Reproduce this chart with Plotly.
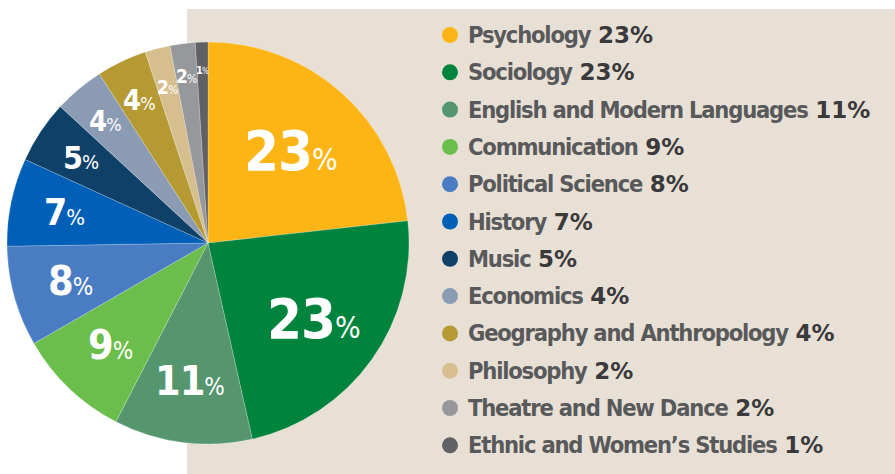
import math
import plotly.graph_objects as go

categories = ["Psychology", "Sociology", "English and Modern Languages", "Communication",
              "Political Science", "History", "Music", "Economics",
              "Geography and Anthropology", "Philosophy", "Theatre and New Dance",
              "Ethnic and Women\u2019s Studies"]
values = [23, 23, 11, 9, 8, 7, 5, 4, 4, 2, 2, 1]
colors = ["#FDB515", "#00843D", "#55966E", "#6BBE4B", "#4A7CC4", "#0060B8",
          "#0F4168", "#8A9BB3", "#B59A33", "#D6BE8F", "#97989C", "#5F6165"]

# label styling (pie in-slice labels)
lab_num_size = [56, 56, 41, 41, 41, 37, 32, 29, 29, 19, 19, 11]
lab_pct_size = [30, 30, 24, 24, 24, 22, 20, 18, 18, 12, 12, 8]
lab_rad = [0.62, 0.65, 0.69, 0.70, 0.71, 0.73, 0.76, 0.79, 0.79, 0.80, 0.84, 0.86]

W, H = 895, 474
cx, cy, R = 208, 243, 201  # pixel geometry of the pie

NARROW = "DejaVu Sans, sans-serif"
WIDE = "DejaVu Sans, Liberation Sans, Arial, sans-serif"
COND = "font-stretch:condensed"

fig = go.Figure()

fig.add_trace(go.Pie(
    labels=categories, values=values, sort=False, direction="clockwise", rotation=0,
    marker=dict(colors=colors, line=dict(color="rgba(255,255,255,0.35)", width=0.6)),
    textinfo="none", hoverinfo="label+percent", showlegend=False,
    domain=dict(x=[(cx - R) / W, (cx + R) / W], y=[(H - cy - R) / H, (H - cy + R) / H]),
))

# in-slice labels
total = sum(values)
cum = 0
for i, v in enumerate(values):
    mid = (cum + v / 2) / total * 2 * math.pi
    cum += v
    r = lab_rad[i] * R
    px = cx + r * math.sin(mid)
    py = cy - r * math.cos(mid)
    fig.add_annotation(
        x=px / W, y=1 - py / H, xref="paper", yref="paper", showarrow=False,
        xanchor="center", yanchor="middle",
        text=(f"<span style='{COND};letter-spacing:-1px'><b>{v}</b></span>"
              f"<span style='{COND};font-size:{lab_pct_size[i]}px'>%</span>"),
        font=dict(family=NARROW, size=lab_num_size[i], color="white"),
    )

# legend dots
row_y = [35 + 37.3 * i for i in range(len(categories))]
fig.add_trace(go.Scatter(
    x=[450] * len(categories), y=row_y, mode="markers",
    marker=dict(size=16, color=colors), hoverinfo="skip", showlegend=False,
))

for i, (c, v) in enumerate(zip(categories, values)):
    fig.add_annotation(
        x=466, y=row_y[i], xref="x", yref="y", showarrow=False,
        xanchor="left", yanchor="middle",
        text=(f"<span style='{COND};letter-spacing:-1.2px;font-size:23.5px'><b>{c}</b></span> "
              f"<span style='font-family:{WIDE};font-weight:bold;"
              f"color:#3A3A3C;font-size:23px'>{v}%</span>"),
        font=dict(family=NARROW, size=24, color="#58595B"),
    )

fig.update_layout(
    width=W, height=H, margin=dict(l=0, r=0, t=0, b=0),
    paper_bgcolor="white", plot_bgcolor="rgba(0,0,0,0)",
    xaxis=dict(range=[0, W], visible=False, domain=[0, 1], fixedrange=True),
    yaxis=dict(range=[H, 0], visible=False, domain=[0, 1], fixedrange=True),
    shapes=[dict(type="rect", xref="paper", yref="paper", x0=187 / W, x1=1,
                 y0=0, y1=1 - 9 / H, fillcolor="#E8E0D5", line=dict(width=0),
                 layer="below")],
)

fig.write_html("out.html", config={"displayModeBar": False},
               post_script="document.body.style.margin='0';")
